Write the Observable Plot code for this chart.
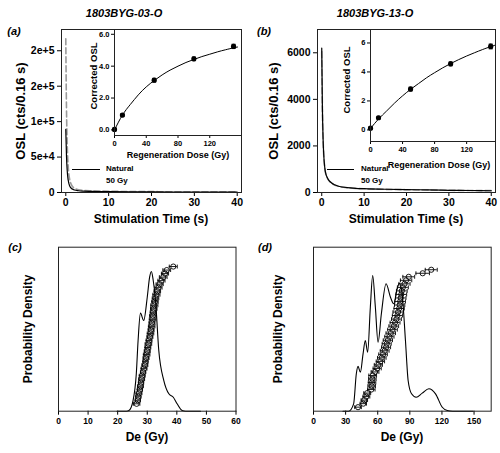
<!DOCTYPE html>
<html><head><meta charset="utf-8">
<script src="https://cdn.jsdelivr.net/npm/d3@7"></script>
<script src="https://cdn.jsdelivr.net/npm/@observablehq/plot@0.6"></script>
<style>
body{margin:0;background:#fff;}
#root{position:relative;width:500px;height:453px;overflow:hidden;font-family:"Liberation Sans",Arial,sans-serif;color:#000;}
</style></head><body><div id="root"></div>
<script>
// ---------- DATA ----------
const titles = ["1803BYG-03-O", "1803BYG-13-O"];
const panelTags = ["(a)", "(b)", "(c)", "(d)"];
const legendNames = ["Natural", "50 Gy"];

// OSL decay curves (stimulation time in s)
const time = [0, 0.16, 0.32, 0.48, 0.64, 0.8, 1.0, 1.3, 1.6, 2, 3, 4, 6, 8, 10, 15, 20, 25, 30, 35, 40];
const naturalA = [89000, 52000, 32000, 21000, 15000, 11000, 8000, 6000, 4500, 3500, 2500, 2000, 1600, 1300, 1100, 900, 750, 650, 600, 550, 500];
const regen50A = [217000, 120000, 70000, 45000, 30000, 22000, 16000, 11000, 8000, 6000, 4000, 3000, 2300, 2000, 1700, 1400, 1200, 1100, 1000, 950, 900];
const naturalB = [6200, 3600, 2300, 1600, 1200, 950, 780, 640, 540, 460, 330, 270, 210, 180, 165, 140, 125, 110, 95, 85, 75];
const regen50B = [6050, 3500, 2250, 1580, 1180, 930, 770, 630, 530, 450, 320, 265, 205, 175, 160, 135, 120, 105, 95, 85, 80];

const timeTicks = [0, 10, 20, 30, 40];
const yTicksA = [0, 50000, 100000, 150000, 200000];
const yLabelsA = ["0", "5e+4", "1e+5", "2e+5", "2e+5"];
const yTicksB = [0, 2000, 4000, 6000];
const yLabelsB = ["0", "2000", "4000", "6000"];

// Dose-response insets
const doses = [0, 10, 50, 100, 150];
const corrA = [0.03, 0.93, 3.12, 4.46, 5.24];
const corrErrA = [0.08, 0.08, 0.1, 0.1, 0.12];
const corrB = [0.12, 0.84, 2.82, 4.56, 5.76];
const corrErrB = [0.08, 0.08, 0.12, 0.12, 0.15];
const fitDose = [0, 10, 20, 30, 40, 50, 60, 70, 80, 90, 100, 110, 120, 130, 140, 150, 155];
const fitA = [0.0, 0.93, 1.6, 2.2, 2.7, 3.1, 3.45, 3.75, 4.0, 4.23, 4.42, 4.6, 4.75, 4.9, 5.03, 5.15, 5.2];
const fitB = [0.1, 0.75, 1.3, 1.85, 2.35, 2.8, 3.2, 3.6, 3.95, 4.28, 4.58, 4.85, 5.1, 5.33, 5.55, 5.75, 5.84];
const insetXTicks = [0, 40, 80, 120];
const insetYTicks = [0, 2, 4, 6];

// Equivalent dose distributions
const deC = [26.4, 26.8, 27.0, 27.2, 27.5, 27.7, 27.9, 28.1, 28.3, 28.6, 28.9, 29.2, 29.4, 29.6, 29.8, 30.0, 30.2, 30.4, 30.6, 30.9, 31.1, 31.3, 31.5, 31.6, 31.8, 31.9, 32.0, 32.2, 32.4, 32.6, 32.8, 33.1, 33.4, 33.8, 34.2, 34.8, 35.4, 36.0, 36.6, 38.8];
const deErrC = [1.1, 0.9, 0.9, 1.0, 0.9, 1.0, 0.9, 1.0, 1.0, 0.9, 1.0, 1.0, 0.9, 1.0, 1.1, 1.0, 1.0, 1.1, 1.0, 1.0, 1.1, 1.0, 1.1, 1.0, 1.1, 1.1, 1.0, 1.1, 1.2, 1.1, 1.1, 1.2, 1.1, 1.2, 1.2, 1.2, 1.3, 1.2, 1.3, 1.35];
const deD = [41.6, 46.5, 47.5, 49.4, 50.2, 54.0, 54.4, 54.7, 55.0, 55.3, 57.5, 59.5, 60.6, 62.5, 63.8, 65.0, 66.5, 67.8, 68.4, 69.5, 70.9, 72.2, 73.8, 75.0, 76.2, 77.5, 78.4, 79.0, 80.0, 80.5, 81.0, 81.5, 82.0, 82.5, 83.5, 85.0, 86.5, 89.0, 102.0, 110.0];
const deErrD = [3.1, 3.0, 3.0, 3.2, 3.2, 3.5, 3.5, 3.5, 3.5, 3.6, 3.6, 3.8, 3.8, 3.9, 4.0, 4.0, 4.1, 4.2, 4.2, 4.3, 4.3, 4.4, 4.5, 4.5, 4.6, 4.6, 4.7, 4.7, 4.8, 4.8, 4.9, 4.9, 5.0, 5.0, 5.1, 5.2, 5.3, 5.5, 6.3, 5.6];
const rank = deC.map((_, i) => i + 1);

// Probability density curves (relative units)
const pdXC = [19.8, 23.0, 23.8, 25.2, 26.3, 26.9, 27.7, 28.8, 30.0, 30.8, 31.4, 32.0, 32.8, 33.9, 35.6, 37.3, 38.8, 40.1, 41.8, 43, 48];
const pdYC = [0, 0, 0.004, 0.065, 0.228, 0.43, 0.598, 0.553, 0.695, 0.817, 0.852, 0.8, 0.675, 0.37, 0.187, 0.106, 0.085, 0.045, 0.004, 0, 0];
const pdXD = [27.5, 32.8, 37.5, 40.0, 41.6, 43.8, 46.3, 48.4, 50.6, 53.1, 55.3, 57.8, 60.3, 63.4, 67.8, 71.9, 75.0, 78.1, 80.3, 82.8, 85.9, 88.4, 91.6, 95.9, 101.6, 107.8, 114.0, 120.3, 125.0, 130, 149];
const pdYD = [0, 0, 0.045, 0.228, 0.273, 0.238, 0.35, 0.431, 0.36, 0.634, 0.827, 0.634, 0.42, 0.594, 0.777, 0.695, 0.655, 0.746, 0.78, 0.716, 0.431, 0.187, 0.106, 0.085, 0.11, 0.137, 0.106, 0.024, 0.004, 0, 0];
const deTicksC = [0, 10, 20, 30, 40, 50, 60];
const deTicksD = [0, 30, 60, 90, 120, 150];

// ---------- HELPERS ----------
const root = document.getElementById("root");
const FONT = '"Liberation Sans", Arial, sans-serif';
function place(el, left, top) {
  el.style.position = "absolute"; el.style.left = left + "px"; el.style.top = top + "px";
  root.appendChild(el);
}
function label(text, x, y, size, opt = {}) {
  const d = document.createElement("div");
  d.textContent = text;
  Object.assign(d.style, {position: "absolute", left: x + "px", top: y + "px", fontSize: size + "px",
    fontWeight: opt.bold === false ? "normal" : "bold", fontStyle: opt.italic ? "italic" : "normal",
    whiteSpace: "nowrap", lineHeight: "1", fontFamily: FONT});
  const tx = opt.anchor === "start" ? "0" : "-50%";
  d.style.transform = `translate(${tx},-50%)` + (opt.rotate ? " rotate(-90deg)" : "");
  root.appendChild(d);
}
function swatch(x1, x2, y) {
  const d = document.createElement("div");
  Object.assign(d.style, {position: "absolute", left: x1 + "px", top: (y - 0.5) + "px", width: (x2 - x1) + "px", height: "0", borderTop: "1.3px solid #000"});
  root.appendChild(d);
}
const style = (fs) => ({background: "transparent", fontFamily: FONT, fontSize: fs + "px", fontWeight: "bold", color: "#000", overflow: "visible"});
const vbar = {draw(ctx, size) { const h = Math.sqrt(size) / 2; ctx.moveTo(0, -h); ctx.lineTo(0, h); }};
const hbar = {draw(ctx, size) { const h = Math.sqrt(size) / 2; ctx.moveTo(-h, 0); ctx.lineTo(h, 0); }};

// ---------- OSL PANELS ----------
function oslPanel(left, frameL, frameR, yMax, nat, reg, yTicks, yLabels) {
  const top = 0, W = 250, H = 220;
  const p = Plot.plot({
    width: W, height: H, marginLeft: frameL - left, marginRight: left + W - frameR, marginTop: 29, marginBottom: H - 192,
    style: style(10.5),
    x: {domain: [-1, 41]}, y: {domain: [0, yMax]},
    marks: [
      Plot.line(time, {x: time, y: reg, stroke: "#9a9a9a", strokeWidth: 1.6, strokeDasharray: "6,3", curve: "monotone-x"}),
      Plot.line(time, {x: time, y: nat, stroke: "#000", strokeWidth: 1.2, curve: "monotone-x"}),
      Plot.axisX({ticks: timeTicks, tickSize: 4, tickPadding: 2, label: null}),
      Plot.axisY({ticks: yTicks, tickSize: 4, tickPadding: 3, label: null, tickFormat: d => yLabels[yTicks.indexOf(d)]}),
      Plot.frame({stroke: "#222"})
    ]
  });
  place(p, left, top);
}
oslPanel(0, 61, 241, 230000, naturalA, regen50A, yTicksA, yLabelsA);
oslPanel(250, 317, 495, 7000, naturalB, regen50B, yTicksB, yLabelsB);

// ---------- INSETS ----------
function inset(left, frameL, frameR, bottom, yDom, xMax, vals, errs, fit) {
  const top = 20, W = frameR - left + 4, H = 160;
  const p = Plot.plot({
    width: W, height: H, marginLeft: frameL - left, marginRight: 4, marginTop: 29 - top, marginBottom: top + H - bottom,
    style: style(7.5),
    x: {domain: [0, xMax]}, y: {domain: yDom},
    marks: [
      Plot.frame({fill: "#fff", stroke: "none"}),
      Plot.line(fitDose, {x: fitDose, y: fit, stroke: "#000", strokeWidth: 1, curve: "natural"}),
      Plot.ruleX(doses, {x: doses, y1: doses.map((d, i) => vals[i] - errs[i]), y2: doses.map((d, i) => vals[i] + errs[i]), stroke: "#000"}),
      Plot.dot(doses, {x: doses, y: doses.map((d, i) => vals[i] - errs[i]), symbol: hbar, r: 2.2, stroke: "#000"}),
      Plot.dot(doses, {x: doses, y: doses.map((d, i) => vals[i] + errs[i]), symbol: hbar, r: 2.2, stroke: "#000"}),
      Plot.dot(doses, {x: doses, y: vals, r: 2.6, fill: "#000", stroke: "none"}),
      Plot.axisX({ticks: insetXTicks, tickSize: 3, tickPadding: 2, label: null}),
      Plot.axisY({ticks: insetYTicks, tickSize: 3, tickPadding: 2, label: null}),
      Plot.frame({stroke: "#222"})
    ]
  });
  place(p, left, top);
}
inset(80, 114, 241, 135, [-0.35, 6.3], 160, corrA, corrErrA, fitA);
inset(336, 370, 495, 141, [-0.8, 6.93], 156, corrB, corrErrB, fitB);

// ---------- De PANELS ----------
function dePanel(left, frameL, frameR, xMax, xTicks, pdX, pdY, de, err, rankDom) {
  const top = 235, W = frameR - left + 10, H = 200;
  const common = {width: W, height: H, marginLeft: frameL - left, marginRight: 10, marginTop: 246.7 - top, marginBottom: top + H - 410.7, style: style(8.5)};
  const p1 = Plot.plot({
    ...common,
    x: {domain: [0, xMax]}, y: {domain: [0, 1], axis: null},
    marks: [
      Plot.line(pdX, {x: pdX, y: pdY, stroke: "#000", strokeWidth: 1.1, curve: "monotone-x"}),
      Plot.axisX({ticks: xTicks, tickSize: 4, tickPadding: 3, label: null}),
      Plot.frame({stroke: "#222"})
    ]
  });
  place(p1, left, top);
  const p2 = Plot.plot({
    ...common,
    x: {domain: [0, xMax], axis: null}, y: {domain: rankDom, axis: null},
    marks: [
      Plot.ruleY(rank, {y: rank, x1: de.map((d, i) => d - err[i]), x2: de.map((d, i) => d + err[i]), stroke: "#000", strokeWidth: 0.9}),
      Plot.dot(rank, {y: rank, x: de.map((d, i) => d - err[i]), symbol: vbar, r: 2.2, stroke: "#000", strokeWidth: 0.9}),
      Plot.dot(rank, {y: rank, x: de.map((d, i) => d + err[i]), symbol: vbar, r: 2.2, stroke: "#000", strokeWidth: 0.9}),
      Plot.dot(rank, {y: rank, x: de, r: 2.6, stroke: "#000", fill: "none", strokeWidth: 0.9})
    ]
  });
  place(p2, left, top);
}
dePanel(40, 58, 235.5, 60, deTicksC, pdXC, pdYC, deC, deErrC, [-1.1, 45.5]);
dePanel(295, 313, 490.7, 166, deTicksD, pdXD, pdYD, deD, deErrD, [-0.14, 46.4]);

// ---------- TEXT ----------
label(titles[0], 124, 13, 11, {italic: true});
label(titles[1], 375, 13, 11, {italic: true});
label(panelTags[0], 14, 31, 11, {italic: true});
label(panelTags[1], 264, 31, 11, {italic: true});
label(panelTags[2], 15, 247, 11, {italic: true});
label(panelTags[3], 265, 247, 11, {italic: true});
label("OSL (cts/0.16 s)", 20, 111, 13, {rotate: true});
label("OSL (cts/0.16 s)", 273, 111, 13, {rotate: true});
label("Stimulation Time (s)", 151, 219, 12);
label("Stimulation Time (s)", 406, 219, 12);
label("Corrected OSL", 94, 76, 9.5, {rotate: true});
label("Corrected OSL", 347, 80, 9.5, {rotate: true});
label("Regeneration Dose (Gy)", 178, 155, 9);
label("Regeneration Dose (Gy)", 439, 165, 9);
label("Probability Density", 28, 329, 12, {rotate: true});
label("Probability Density", 278, 329, 12, {rotate: true});
label("De (Gy)", 147, 437, 12);
label("De (Gy)", 402, 437, 12);
swatch(72, 100, 169);
swatch(327, 354, 169);
label(legendNames[0], 106, 169, 8, {anchor: "start"});
label(legendNames[1], 106, 181, 8, {anchor: "start"});
label(legendNames[0], 361, 169, 8, {anchor: "start"});
label(legendNames[1], 361, 181, 8, {anchor: "start"});
</script></body></html>
